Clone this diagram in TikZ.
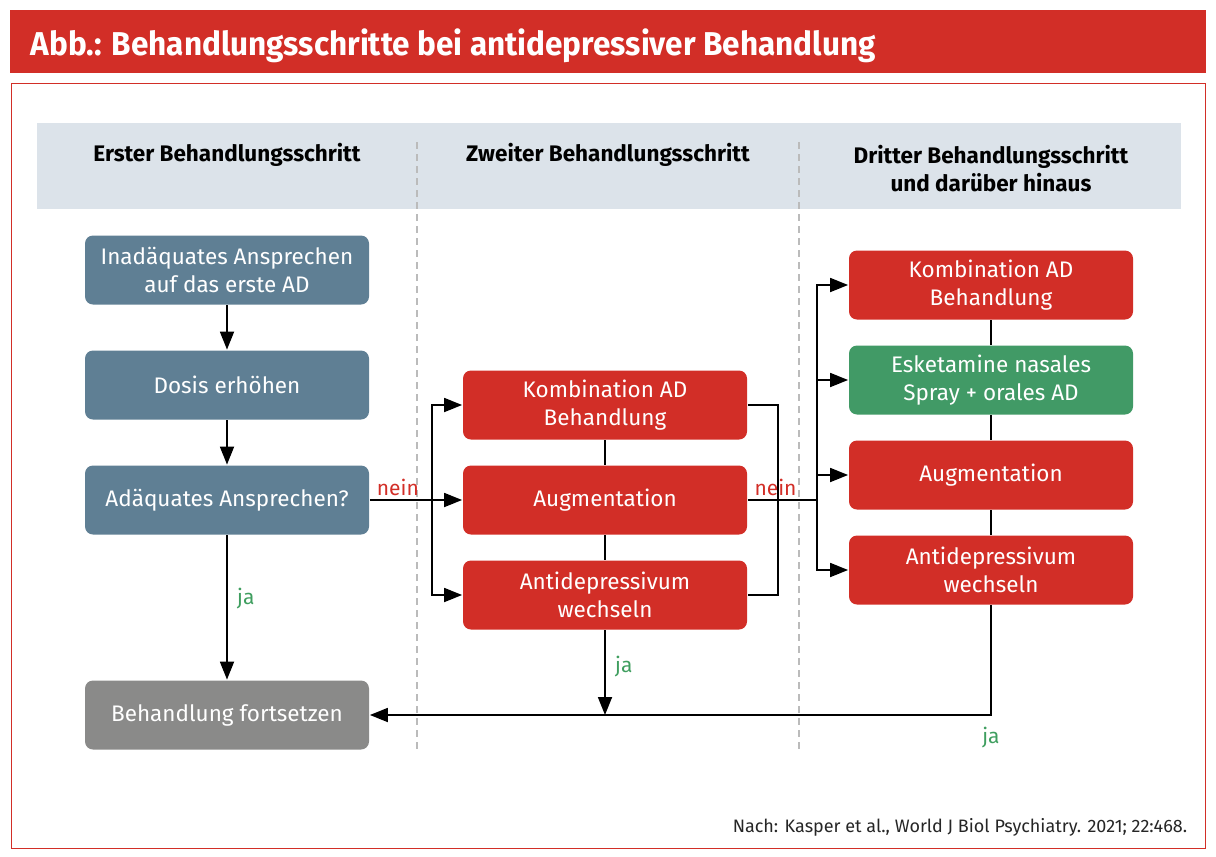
\documentclass[tikz,border=0pt]{standalone}
\usepackage{fontspec}
\setmainfont{Fira Sans}
\newfontfamily\bodyfont{Fira Sans}
\newfontfamily\headfont[FakeStretch=0.955]{Fira Sans}
\usetikzlibrary{arrows.meta}

\definecolor{titlered}{HTML}{D22E27}
\definecolor{bandgrey}{HTML}{DCE3EA}
\definecolor{stepblue}{HTML}{5F7F94}
\definecolor{stepgrey}{HTML}{8A8A89}
\definecolor{stepgreen}{HTML}{419A66}
\definecolor{jagreen}{HTML}{3F9E5F}
\definecolor{dashgrey}{HTML}{BBBBBB}

\begin{document}
\begin{tikzpicture}[x=1pt, y=-1pt,
  stepbox/.style={rounded corners=8pt, minimum width=284pt, minimum height=69pt, inner sep=0pt,
    text=white, align=center, font=\bodyfont\fontsize{22.5}{28}\selectfont},
  bluebox/.style={stepbox, fill=stepblue},
  redbox/.style={stepbox, fill=titlered},
  greenbox/.style={stepbox, fill=stepgreen},
  greybox/.style={stepbox, fill=stepgrey},
  colhead/.style={align=center, font=\bodyfont\bfseries\fontsize{22.5}{28}\selectfont},
  nein/.style={text=titlered, font=\bodyfont\fontsize{21}{24}\selectfont},
  ja/.style={text=jagreen, font=\bodyfont\fontsize{21}{24}\selectfont},
  arr/.style={-{Triangle[length=18pt,width=14pt]}},
  line width=1.8pt]
\useasboundingbox (0,0) rectangle (1216,857);
% frame and title
\fill[titlered] (10,10) rectangle (1206,73);
\node[anchor=base west, text=white, inner sep=0pt, font=\headfont\bfseries\fontsize{33}{36}\selectfont]
  (title) at (30,55) {Abb.: Behandlungsschritte bei antidepressiver Behandlung};
\draw[titlered, line width=1pt] (11,83) rectangle (1205,848);
\fill[bandgrey] (37,123) rectangle (1181,209);
\draw[dashgrey, line width=1.5pt, dash pattern=on 7pt off 5pt] (417,142) -- (417,752);
\draw[dashgrey, line width=1.5pt, dash pattern=on 7pt off 5pt] (799,142) -- (799,752);

% column heads
\node[colhead] (h1) at (227,155) {Erster Behandlungsschritt};
\node[colhead] (h2) at (608,155) {Zweiter Behandlungsschritt};
\node[colhead] (h3) at (991,169) {Dritter Behandlungsschritt\\und darüber hinaus};

% first step
\node[bluebox] (b1) at (227,270) {Inadäquates Ansprechen\\auf das erste AD};
\node[bluebox] (b2) at (227,385) {Dosis erhöhen};
\node[bluebox] (b3) at (227,500) {Adäquates Ansprechen?};
\node[greybox] (b4) at (227,715) {Behandlung fortsetzen};

% second step
\node[redbox] (m1) at (605,405) {Kombination AD\\Behandlung};
\node[redbox] (m2) at (605,500) {Augmentation};
\node[redbox] (m3) at (605,595) {Antidepressivum\\wechseln};

% third step
\node[redbox] (r1) at (991,285) {Kombination AD\\Behandlung};
\node[greenbox] (r2) at (991,380) {Esketamine nasales\\Spray + orales AD};
\node[redbox] (r3) at (991,475) {Augmentation};
\node[redbox] (r4) at (991,570) {Antidepressivum\\wechseln};

\coordinate (lbus) at (432,500);
\coordinate (mbus) at (778,500);
\coordinate (rbus) at (817,500);
\coordinate (mja) at (605,715);
\coordinate (rja) at (991,715);

\draw[arr] (b1) -- (b2);
\draw[arr] (b2) -- (b3);
\draw[arr] (b3) -- node[ja, right=6pt, pos=.44]{ja} (b4);

\draw (b3.east) -- node[nein, above, pos=.45]{nein} (lbus);
\draw[arr] (lbus) |- (m1.west);
\draw[arr] (lbus) -- (m2.west);
\draw[arr] (lbus) |- (m3.west);

\draw (m1) -- (m2);
\draw (m2) -- (m3);
\draw (m1.east) -| (mbus) |- (m3.east);
\draw (m2.east) -- node[nein, above, pos=.4]{nein} (rbus);
\draw[arr] (m3.south) -- node[ja, right=6pt, pos=.43]{ja} (mja);

\draw[arr] (rbus) |- (r1.west);
\draw[arr] (rbus) |- (r2.west);
\draw[arr] (rbus) |- (r3.west);
\draw[arr] (rbus) |- (r4.west);
\draw (r1) -- (r2);
\draw (r2) -- (r3);
\draw (r3) -- (r4);
\draw[arr] (r4.south) -- (rja) node[ja, below=8pt]{ja} -- (b4.east);

% source
\node[anchor=base east, text=black!85, inner sep=0pt, font=\bodyfont\fontsize{18}{20}\selectfont]
  (source) at (1188,832) {Nach: Kasper et al., World J Biol Psychiatry. 2021; 22:468.};
\end{tikzpicture}
\end{document}
